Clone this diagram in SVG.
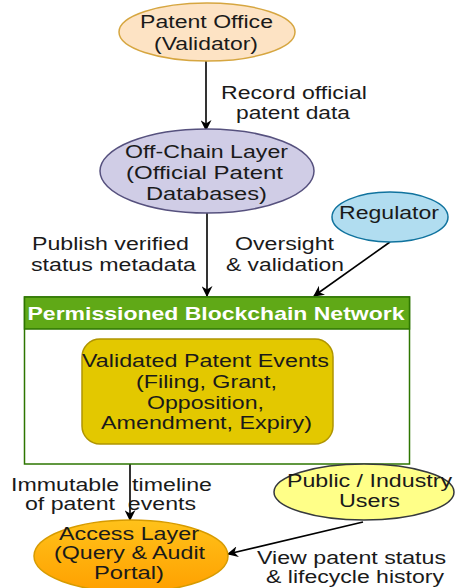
<svg xmlns="http://www.w3.org/2000/svg" width="458" height="588" viewBox="0 0 458 588">
<defs>
<marker id="arr" viewBox="0 0 10 10" refX="9" refY="5" markerWidth="11" markerHeight="11" markerUnits="userSpaceOnUse" orient="auto">
<path d="M0,0 L10,5 L0,10 L3,5 Z" fill="#000"/>
</marker>
<linearGradient id="og" x1="0" y1="0" x2="0" y2="1">
<stop offset="0" stop-color="#ffc21a"/>
<stop offset="1" stop-color="#ffa000"/>
</linearGradient>
</defs>
<style>
text{font-family:"Liberation Sans",Arial,sans-serif;font-size:17.5px;fill:#1a1a1a;text-anchor:middle;white-space:pre}
.title{font-weight:bold;fill:#fff;font-size:18.5px}
.edge{stroke:#000;stroke-width:1.6;fill:none;marker-end:url(#arr)}
</style>
<g id="connectors">
<line class="edge" x1="206" y1="61" x2="206" y2="130"/>
<line class="edge" x1="207" y1="213" x2="207" y2="296"/>
<line class="edge" x1="390" y1="242" x2="314" y2="296"/>
<line class="edge" x1="130" y1="464" x2="130" y2="520"/>
<line class="edge" x1="363" y1="522" x2="228" y2="554"/>
<text x="294" y="99" textLength="146" lengthAdjust="spacingAndGlyphs">Record official</text>
<text x="293" y="119" textLength="114" lengthAdjust="spacingAndGlyphs">patent data</text>
<text x="110.5" y="250" textLength="157" lengthAdjust="spacingAndGlyphs">Publish verified</text>
<text x="113.5" y="271" textLength="165" lengthAdjust="spacingAndGlyphs">status metadata</text>
<text x="284.5" y="250" textLength="99" lengthAdjust="spacingAndGlyphs">Oversight</text>
<text x="285" y="271" textLength="118" lengthAdjust="spacingAndGlyphs">&amp; validation</text>
<text x="111.5" y="491" textLength="201" lengthAdjust="spacingAndGlyphs">Immutable  timeline</text>
<text x="110.5" y="510" textLength="171" lengthAdjust="spacingAndGlyphs">of patent  events</text>
<text x="351.5" y="564" textLength="189" lengthAdjust="spacingAndGlyphs">View patent status</text>
<text x="355" y="583" textLength="178" lengthAdjust="spacingAndGlyphs">&amp; lifecycle history</text>
</g>
<g id="patent-office">
<ellipse cx="207" cy="32" rx="88" ry="29" fill="#fde3c4" stroke="#d6a640" stroke-width="1.5"/>
<text x="206.5" y="28" textLength="133" lengthAdjust="spacingAndGlyphs">Patent Office</text>
<text x="206" y="50" textLength="104" lengthAdjust="spacingAndGlyphs">(Validator)</text>
</g>
<g id="off-chain">
<ellipse cx="207" cy="171" rx="107" ry="42" fill="#d0cde6" stroke="#56517e" stroke-width="1.5"/>
<text x="206.5" y="158" textLength="163" lengthAdjust="spacingAndGlyphs">Off-Chain Layer</text>
<text x="204.5" y="179" textLength="157" lengthAdjust="spacingAndGlyphs">(Official Patent</text>
<text x="206.5" y="200" textLength="121" lengthAdjust="spacingAndGlyphs">Databases)</text>
</g>
<g id="regulator">
<ellipse cx="390" cy="217" rx="58" ry="25" fill="#b1ddf0" stroke="#10739e" stroke-width="1.5"/>
<text x="389" y="219" textLength="100" lengthAdjust="spacingAndGlyphs">Regulator</text>
</g>
<g id="blockchain">
<rect x="24.5" y="297" width="385" height="167" fill="#fff" stroke="#2d7600" stroke-width="1.5"/>
<rect x="24.5" y="297" width="385" height="32" fill="#60a917" stroke="#2d7600" stroke-width="1.5"/>
<text class="title" x="216" y="320" textLength="377" lengthAdjust="spacingAndGlyphs">Permissioned Blockchain Network</text>
</g>
<g id="events">
<rect x="82" y="339" width="251" height="105" rx="18" fill="#e3c800" stroke="#b09500" stroke-width="1.5"/>
<text x="205.5" y="367" textLength="247" lengthAdjust="spacingAndGlyphs">Validated Patent Events</text>
<text x="206.5" y="388" textLength="141" lengthAdjust="spacingAndGlyphs">(Filing, Grant,</text>
<text x="205.5" y="409" textLength="117" lengthAdjust="spacingAndGlyphs">Opposition,</text>
<text x="206.5" y="429" textLength="211" lengthAdjust="spacingAndGlyphs">Amendment, Expiry)</text>
</g>
<g id="users">
<ellipse cx="364" cy="492" rx="90" ry="28" fill="#ffff88" stroke="#36393d" stroke-width="1.5"/>
<text x="369.5" y="487" textLength="165" lengthAdjust="spacingAndGlyphs">Public / Industry</text>
<text x="369.5" y="507" textLength="61" lengthAdjust="spacingAndGlyphs">Users</text>
</g>
<g id="access">
<ellipse cx="131" cy="556" rx="97" ry="36" fill="url(#og)" stroke="#d79b00" stroke-width="1.5"/>
<text x="129" y="540" textLength="140" lengthAdjust="spacingAndGlyphs">Access Layer</text>
<text x="129.5" y="559" textLength="151" lengthAdjust="spacingAndGlyphs">(Query &amp; Audit</text>
<text x="129" y="579" textLength="70" lengthAdjust="spacingAndGlyphs">Portal)</text>
</g>
</svg>
